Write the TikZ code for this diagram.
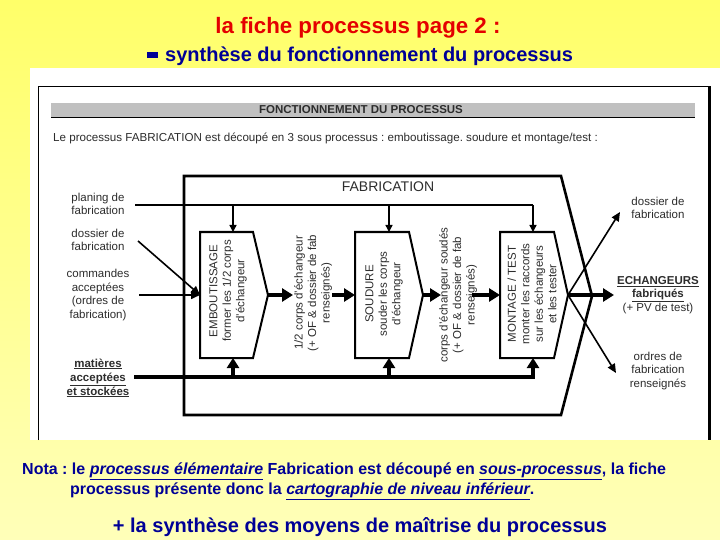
\documentclass[tikz,border=0pt]{standalone}
\usepackage{fontspec}
\setmainfont{Liberation Sans}
\usetikzlibrary{arrows.meta}
\frenchspacing
\newcommand\myul[1]{\underline{#1}}
\definecolor{titlered}{RGB}{228,0,0}
\definecolor{navy}{RGB}{0,0,150}
\definecolor{bgtop}{RGB}{255,255,105}
\definecolor{bgbot}{RGB}{255,255,185}
\definecolor{bargray}{RGB}{192,192,192}
\definecolor{ink}{RGB}{45,45,45}
\tikzset{
  lbl/.style={align=center, text=ink, font=\fontsize{11.5}{13.5}\selectfont, inner sep=0pt},
  vlbl/.style={lbl, rotate=90},
  boxline/.style={draw=black, line width=2pt, line join=miter},
  thinarrow/.style={draw=black, line width=1.6pt, -{Triangle[length=9pt,width=8pt]}},
  downarrow/.style={draw=black, line width=1.4pt, -{Triangle[length=7pt,width=7pt]}},
  thickarrow/.style={draw=black, line width=4pt, -{Triangle[length=11pt,width=13pt]}},
}
\begin{document}
\begin{tikzpicture}[x=1pt,y=-1pt]
\useasboundingbox (0,0) rectangle (720,540);
% background
\shade[top color=bgtop, bottom color=bgbot] (0,0) rectangle (720,540);
\fill[white] (30,68) rectangle (720,440);
% titles
\node[anchor=base, text=titlered, font=\bfseries\fontsize{22.3}{26}\selectfont, inner sep=0pt] (t1) at (358,34) {la fiche processus page 2 :};
\fill[navy] (147,52) rectangle (158,58);
\node[anchor=base west, text=navy, font=\bfseries\fontsize{20}{23}\selectfont, inner sep=0pt] (t2) at (165,62) {synthèse du fonctionnement du processus};
% inner frame
\draw[line width=1pt] (38,440) -- (38,87) -- (709,87);
\draw[line width=3pt] (709,86.5) -- (709,440);
\fill[bargray] (51,103) rectangle (695,117);
\draw[line width=1.2pt] (51,117.5) -- (695,117.5);
\node[font=\bfseries\fontsize{11.5}{13}\selectfont, text=ink, inner sep=0pt] (hdr) at (361,110) {FONCTIONNEMENT DU PROCESSUS};
\node[anchor=base west, font=\fontsize{11.6}{13}\selectfont, text=ink, inner sep=0pt] (intro) at (53,142) {Le processus FABRICATION est découpé en 3 sous processus : emboutissage. soudure et montage/test :};
% FABRICATION box
\draw[line width=2.6pt, line join=miter] (184,176) -- (561,176) -- (592,296) -- (561,415) -- (184,415) -- cycle;
\node[font=\fontsize{14}{16}\selectfont, text=ink, inner sep=0pt] (fab) at (388,187) {FABRICATION};
% sub boxes
\coordinate (Ew) at (200,295); \coordinate (Et) at (233,232); \coordinate (Eb) at (233,358); \coordinate (Ee) at (268,295);
\coordinate (Sw) at (355,295); \coordinate (St) at (389,232); \coordinate (Sb) at (389,358); \coordinate (Se) at (423,295);
\coordinate (Mw) at (500,295); \coordinate (Mt) at (533,232); \coordinate (Mb) at (533,358); \coordinate (Me) at (568,295);
\draw[boxline] (200,232) -- (253,232) -- (Ee) -- (253,358) -- (200,358) -- cycle;
\draw[boxline] (355,232) -- (409,232) -- (Se) -- (409,358) -- (355,358) -- cycle;
\draw[boxline] (500,232) -- (554,232) -- (Me) -- (554,358) -- (500,358) -- cycle;
\node[vlbl] (Etxt) at (228,291) {EMBOUTISSAGE\\former les 1/2 corps\\d'échangeur};
\node[vlbl] (Stxt) at (384,294) {SOUDURE\\souder les corps\\d'échangeur};
\node[vlbl] (Mtxt) at (532,294) {MONTAGE / TEST\\monter les raccords\\sur les échangeurs\\et les tester};
\node[vlbl] (f1) at (313,293) {1/2 corps d'échangeur\\(+ OF \& dossier de fab\\renseignés)};
\node[vlbl] (f2) at (458,295) {corps d'échangeur soudés\\(+ OF \& dossier de fab\\renseignés)};
% flows between boxes
\coordinate (f1a) at (293,295); \coordinate (f1b) at (332,295);
\coordinate (f2a) at (441,295); \coordinate (f2b) at (472,295);
\draw[thickarrow] (Ee) -- (f1a);
\draw[thickarrow] (f1b) -- (Sw);
\draw[thickarrow] (Se) -- (f2a);
\draw[thickarrow] (f2b) -- (Mw);
% top control line
\coordinate (plan) at (135,205); \coordinate (tE) at (233,205); \coordinate (tS) at (389,205); \coordinate (tM) at (533,205);
\draw[line width=1.8pt] (plan) -- (tM);
\draw[downarrow] (tE) -- (Et);
\draw[downarrow] (tS) -- (St);
\draw[downarrow] (tM) -- (Mt);
% bottom resource line
\coordinate (mat) at (134,377); \coordinate (bE) at (233,377); \coordinate (bS) at (389,377); \coordinate (bM) at (533,377);
\draw[line width=4pt] (mat) -- (535,377);
\draw[thickarrow, -{Triangle[length=10pt,width=12pt]}] (bE) -- (Eb);
\draw[thickarrow, -{Triangle[length=10pt,width=12pt]}] (bS) -- (Sb);
\draw[thickarrow, -{Triangle[length=10pt,width=12pt]}] (bM) -- (Mb);
% left labels
\node[lbl] (lplan) at (98,204) {planing de\\fabrication};
\node[lbl] (ldos) at (98,240) {dossier de\\fabrication};
\node[lbl] (lcmd) at (98,295) {commandes\\acceptées\\(ordres de\\fabrication)};
\node[lbl, font=\bfseries\fontsize{11.5}{14}\selectfont] (lmat) at (98,378) {\myul{matières}\\\myul{acceptées}\\\myul{et stockées}};
\coordinate (ldosE) at (138,241); \coordinate (lcmdE) at (139,295);
\draw[thinarrow] (ldosE) -- (Ew);
\draw[thinarrow] (lcmdE) -- (Ew);
% right labels
\node[lbl] (rdos) at (658,208) {dossier de\\fabrication};
\node[lbl] (rech) at (658,295) {{\bfseries\myul{ECHANGEURS}}\\{\bfseries\myul{fabriqués}}\\(+ PV de test)};
\node[lbl] (rord) at (658,371) {ordres de\\fabrication\\renseignés};
\coordinate (rdosW) at (620,212); \coordinate (rechW) at (614,295); \coordinate (rordW) at (616,373);
\draw[thinarrow] (Me) -- (rdosW);
\draw[thickarrow] (Me) -- (rechW);
\draw[thinarrow] (Me) -- (rordW);
% bottom notes
\node[anchor=base west, text=navy, font=\bfseries\fontsize{16}{18}\selectfont, inner sep=0pt] (nota1) at (22,474) {Nota : le \myul{\itshape processus élémentaire} Fabrication est découpé en \myul{\itshape sous-processus}, la fiche};
\node[anchor=base west, text=navy, font=\bfseries\fontsize{16}{18}\selectfont, inner sep=0pt] (nota2) at (70,494) {processus présente donc la \myul{\itshape cartographie de niveau inférieur}.};
\node[anchor=base, text=navy, font=\bfseries\fontsize{20}{24}\selectfont, inner sep=0pt] (t3) at (360,532) {+ la synthèse des moyens de maîtrise du processus};
\end{tikzpicture}
\end{document}
